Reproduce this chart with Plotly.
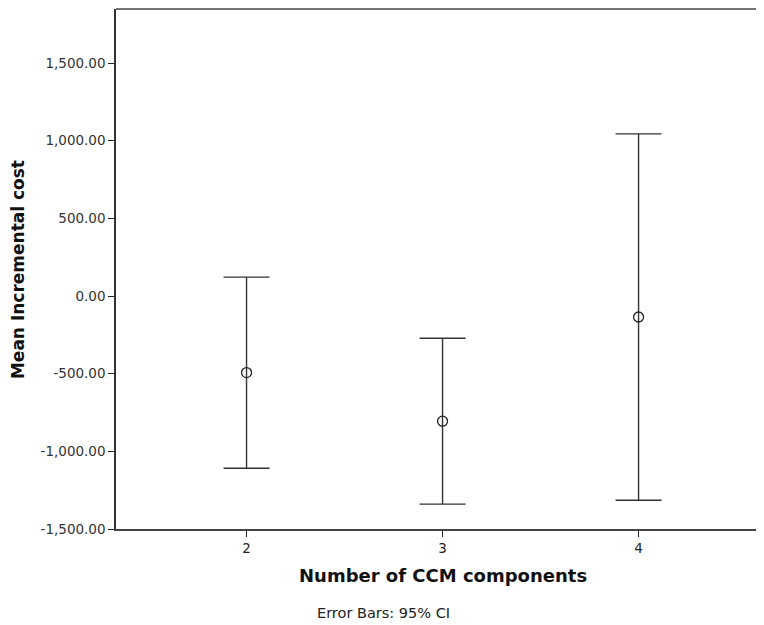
import plotly.graph_objects as go

groups = [2, 3, 4]
means = [-493, -806, -135]
ci_upper = [122, -272, 1044]
ci_lower = [-1109, -1340, -1315]
y_ticks = [-1500, -1000, -500, 0, 500, 1000, 1500]

err_plus = [u - m for u, m in zip(ci_upper, means)]
err_minus = [m - l for m, l in zip(means, ci_lower)]

fig = go.Figure()
fig.add_trace(go.Scatter(
    x=groups, y=means, mode="markers",
    marker=dict(symbol="circle-open", size=10, color="#222", line=dict(width=1.3, color="#222")),
    error_y=dict(type="data", symmetric=False, array=err_plus, arrayminus=err_minus,
                 width=23, thickness=1.4, color="#333"),
    showlegend=False, hoverinfo="skip",
))

font_family = "DejaVu Sans, Lucida Grande, sans-serif"

fig.update_layout(
    width=756, height=617,
    margin=dict(l=108, r=0, t=1, b=96),
    paper_bgcolor="white", plot_bgcolor="white",
    font=dict(family=font_family, color="#222"),
    xaxis=dict(
        range=[1.334, 4.640], tickvals=groups, ticktext=[str(g) for g in groups],
        showgrid=False, zeroline=False, showline=True, linecolor="#444", linewidth=1.5,
        ticks="outside", ticklen=6, tickwidth=1.3, tickcolor="#222",
        tickfont=dict(size=13.5, family=font_family, color="#222"),
    ),
    yaxis=dict(
        range=[-1500, 1848], tickvals=y_ticks,
        ticktext=[f"{v:,.2f}" for v in y_ticks],
        showgrid=False, zeroline=False, showline=True, linecolor="#333", linewidth=1.5,
        ticks="outside", ticklen=6, tickwidth=1.3, tickcolor="#222",
        tickfont=dict(size=13.5, family=font_family, color="#333"),
    ),
    shapes=[
        dict(type="line", xref="paper", yref="paper", x0=0, x1=1.01, y0=1, y1=1,
             line=dict(color="#444", width=1.5)),
    ],
    annotations=[
        dict(text="<b>Number of CCM components</b>", xref="x", yref="paper",
             x=3, y=-0.0885, xanchor="center", yanchor="middle", showarrow=False,
             font=dict(size=18, family=font_family, color="#111")),
        dict(text="Error Bars: 95% CI", xref="x", yref="paper",
             x=2.70, y=-0.1615, xanchor="center", yanchor="middle", showarrow=False,
             font=dict(size=14.5, family=font_family, color="#222")),
        dict(text="<b>Mean Incremental cost</b>", xref="paper", yref="paper",
             x=-0.1512, y=0.498, xanchor="center", yanchor="middle", textangle=-90,
             showarrow=False, font=dict(size=17, family=font_family, color="#111")),
    ],
)

fig.write_html("out.html")
